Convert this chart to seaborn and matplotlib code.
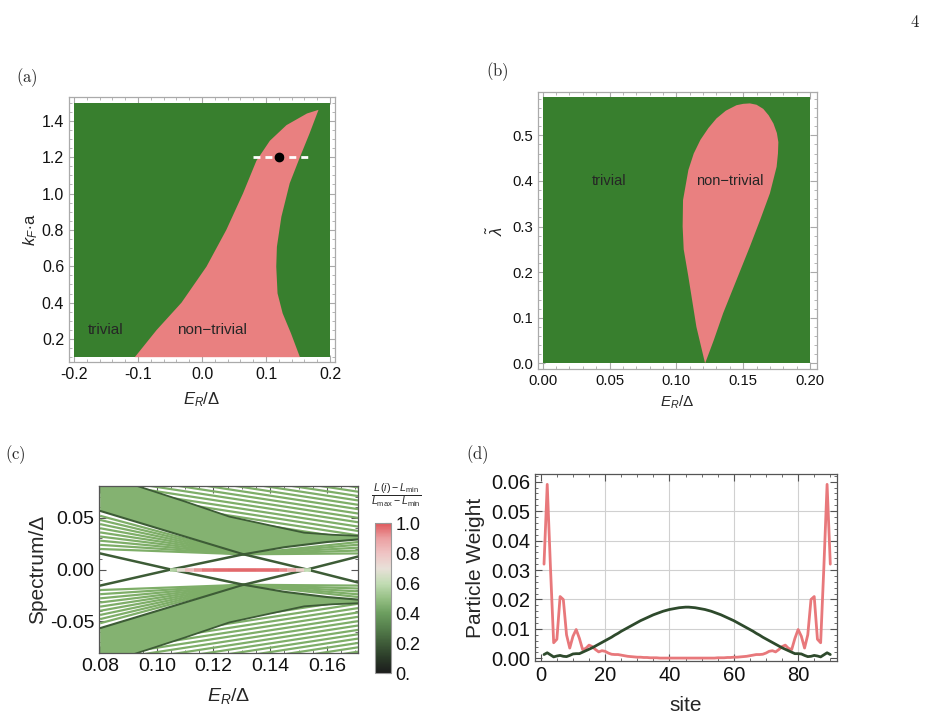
import matplotlib
matplotlib.use("Agg")
import matplotlib.pyplot as plt
from matplotlib.cm import ScalarMappable
from matplotlib.collections import LineCollection
from matplotlib.colors import LinearSegmentedColormap, Normalize
from matplotlib.patches import Polygon
from matplotlib.ticker import AutoMinorLocator, FixedLocator, FormatStrFormatter
import numpy as np
import pandas as pd
import seaborn as sns

# (a) phase diagram, E_R/Delta vs k_F a
a_er_range = [-0.2, 0.2]
a_kf_range = [0.1, 1.5]
a_left_er = [-0.105, -0.071, -0.032, 0.007, 0.038, 0.064, 0.085, 0.106, 0.132, 0.164, 0.182]
a_left_kf = [0.1, 0.249, 0.4, 0.598, 0.8, 1.0, 1.18, 1.29, 1.376, 1.44, 1.46]
a_right_er = [0.182, 0.168, 0.153, 0.137, 0.124, 0.117, 0.116, 0.118, 0.126, 0.139, 0.153]
a_right_kf = [1.46, 1.33, 1.2, 1.056, 0.872, 0.707, 0.598, 0.451, 0.341, 0.231, 0.1]
a_cut_er = [0.08, 0.17]
a_cut_kf = [1.2, 1.2]
a_point = [0.12, 1.2]

# (b) phase diagram, E_R/Delta vs lambda
b_er_range = [0.0, 0.2]
b_lam_range = [0.0, 0.583]
b_drop_er = [0.1215, 0.115, 0.109, 0.1055, 0.1047, 0.105, 0.109, 0.113, 0.118, 0.124, 0.130,
             0.137, 0.145, 0.150, 0.155, 0.160, 0.165, 0.169, 0.1726, 0.1752, 0.1763, 0.1760,
             0.175, 0.170, 0.1626, 0.155, 0.145, 0.135, 0.128]
b_drop_lam = [0.0, 0.080, 0.190, 0.250, 0.300, 0.358, 0.424, 0.460, 0.490, 0.516, 0.537,
              0.554, 0.566, 0.569, 0.570, 0.567, 0.558, 0.544, 0.526, 0.505, 0.485, 0.460,
              0.431, 0.373, 0.314, 0.256, 0.183, 0.110, 0.051]

# (c) spectrum, upper half (lower half is the mirror image)
c_e1_x = [0.092, 0.110, 0.1256, 0.140, 0.152, 0.162, 0.171]
c_e1_y = [0.0815, 0.0655, 0.0510, 0.0425, 0.0355, 0.0335, 0.0325]
c_e2_x = [0.08, 0.1306]
c_e2_y = [0.0565, 0.0147]
c_e3_x = [0.1306, 0.145, 0.160, 0.171]
c_e3_y = [0.0147, 0.0215, 0.0265, 0.0290]
c_gap_x = [0.08, 0.105, 0.1306, 0.153, 0.171]
c_gap_y = [0.0155, 0.0, 0.0147, 0.0, 0.0125]
c_top_yl = [0.0460, 0.0502, 0.0544, 0.0586, 0.0628, 0.0670, 0.0712, 0.0754, 0.0796, 0.0838,
            0.0880, 0.0922, 0.0964, 0.1006, 0.1048, 0.1090, 0.1132]
c_top_yr = [0.0120, 0.0162, 0.0204, 0.0246, 0.0288, 0.0330, 0.0372, 0.0414, 0.0456, 0.0498,
            0.0540, 0.0582, 0.0624, 0.0666, 0.0708, 0.0750, 0.0792]
c_top_x = [0.09, 0.171]
c_fan_left_y0 = [0.0198, 0.0238, 0.0278, 0.0318, 0.0358, 0.0398, 0.0438, 0.0478, 0.0518]
c_fan_right_y1 = [0.0155, 0.0183, 0.0211, 0.0239, 0.0265]
c_zero_x = [0.1045, 0.107, 0.110, 0.113, 0.116, 0.120, 0.125, 0.130, 0.135, 0.140,
            0.143, 0.146, 0.149, 0.152, 0.1545]
c_zero_L = [0.50, 0.62, 0.75, 0.88, 0.95, 0.97, 0.98, 0.98, 0.98, 0.97,
            0.96, 0.92, 0.82, 0.68, 0.52]

# (d) particle weight per site
sites = list(range(1, 91))
edge_weight = [0.0320, 0.0591, 0.0310, 0.0053, 0.0065, 0.0210, 0.0200, 0.0080, 0.0035, 0.0075,
               0.0098, 0.0068, 0.0030, 0.0034, 0.0045, 0.0040, 0.0030, 0.0022, 0.0026, 0.0024,
               0.0018, 0.0014, 0.0013, 0.0013, 0.0011, 0.0009, 0.0007, 0.0006, 0.0005, 0.0004,
               0.0004, 0.0003, 0.0003, 0.0002, 0.0002, 0.0002, 0.0001, 0.0001, 0.0001, 0.0001,
               0.0001, 0.0001, 0.0001, 0.0001, 0.0001,
               0.0001, 0.0001, 0.0001, 0.0001, 0.0001, 0.0001, 0.0001, 0.0001, 0.0001, 0.0002,
               0.0002, 0.0002, 0.0003, 0.0003, 0.0004, 0.0004, 0.0005, 0.0006, 0.0007, 0.0009,
               0.0011, 0.0013, 0.0013, 0.0014, 0.0018, 0.0024, 0.0026, 0.0022, 0.0030, 0.0040,
               0.0045, 0.0034, 0.0030, 0.0068, 0.0098, 0.0075, 0.0035, 0.0080, 0.0200, 0.0210,
               0.0065, 0.0053, 0.0310, 0.0591, 0.0320]
bulk_weight = [0.0013, 0.0019, 0.0012, 0.0005, 0.0008, 0.0010, 0.0007, 0.0006, 0.0010, 0.0015,
               0.0016, 0.0016, 0.0021, 0.0026, 0.0031, 0.0036, 0.0042, 0.0048, 0.0054, 0.0060,
               0.0066, 0.0072, 0.0079, 0.0085, 0.0092, 0.0098, 0.0104, 0.0110, 0.0116, 0.0122,
               0.0128, 0.0133, 0.0138, 0.0143, 0.0148, 0.0152, 0.0156, 0.0160, 0.0163, 0.0166,
               0.0168, 0.0170, 0.0172, 0.0173, 0.0174,
               0.0174, 0.0173, 0.0172, 0.0170, 0.0168, 0.0166, 0.0163, 0.0160, 0.0156, 0.0152,
               0.0148, 0.0143, 0.0138, 0.0133, 0.0128, 0.0122, 0.0116, 0.0110, 0.0104, 0.0098,
               0.0092, 0.0085, 0.0079, 0.0072, 0.0066, 0.0060, 0.0054, 0.0048, 0.0042, 0.0036,
               0.0031, 0.0026, 0.0021, 0.0016, 0.0016, 0.0015, 0.0010, 0.0006, 0.0007, 0.0010,
               0.0008, 0.0005, 0.0012, 0.0019, 0.0013]

PHASE_GREEN = "#387f2e"
PHASE_PINK = "#e98080"
LINE_GREEN = "#7eae68"
BAND_GREEN = "#84b271"
DARK_GREEN = "#3d5c36"
EDGE_RED = "#e8787b"
BULK_DARK = "#2e4a2c"

sns.set_style("ticks")
plt.rcParams["font.family"] = ["Liberation Sans", "DejaVu Sans"]
plt.rcParams["mathtext.fontset"] = "custom"
plt.rcParams["mathtext.rm"] = "Liberation Sans"
plt.rcParams["mathtext.it"] = "Liberation Sans:italic"
plt.rcParams["mathtext.bf"] = "Liberation Sans:bold"

cmap = LinearSegmentedColormap.from_list(
    "loc",
    [(0.0, "#1c1c1c"), (0.1, "#2a3a28"), (0.2, "#3f5c39"), (0.3, "#557f4c"),
     (0.4, "#6c9e5f"), (0.5, "#96c085"), (0.6, "#c2dcb4"), (0.7, "#e8e0d8"),
     (0.8, "#efc4c4"), (0.9, "#eba0a2"), (1.0, "#e05a5e")],
)


def style_frame(ax, color, size):
    for spine in ax.spines.values():
        spine.set_color(color)
        spine.set_linewidth(0.9)
    ax.tick_params(which="both", direction="in", top=True, right=True,
                   color=color, labelsize=size, labelcolor="#111111")
    ax.tick_params(which="major", length=5, width=0.8)
    ax.tick_params(which="minor", length=2.5, width=0.6)
    ax.xaxis.set_minor_locator(AutoMinorLocator())
    ax.yaxis.set_minor_locator(AutoMinorLocator())


fig = plt.figure(figsize=(9.35, 7.21), dpi=100)

# ---- (a)
ax = fig.add_axes([0.0738, 0.4983, 0.2845, 0.3675])
ax.fill_between(a_er_range, a_kf_range[0], a_kf_range[1], color=PHASE_GREEN, lw=0)
ax.fill(a_left_er + a_right_er, a_left_kf + a_right_kf, color=PHASE_PINK, lw=0)
ax.plot(a_cut_er, a_cut_kf, color="white", lw=2, ls=(0, (2.5, 1.8)))
ax.plot([a_point[0]], [a_point[1]], "o", color="black", ms=6)
ax.text(-0.15, 0.25, "trivial", ha="center", va="center", fontsize=11)
ax.text(0.016, 0.25, "non\u2212trivial", ha="center", va="center", fontsize=11)
ax.set_xlim(-0.2078, 0.2078)
ax.set_ylim(0.075, 1.532)
ax.xaxis.set_major_locator(FixedLocator([-0.2, -0.1, 0.0, 0.1, 0.2]))
ax.yaxis.set_major_locator(FixedLocator([0.2, 0.4, 0.6, 0.8, 1.0, 1.2, 1.4]))
ax.xaxis.set_major_formatter(FormatStrFormatter("%.1f"))
ax.yaxis.set_major_formatter(FormatStrFormatter("%.1f"))
style_frame(ax, "#aaaaaa", 11.5)
ax.set_xlabel(r"$E_R/\Delta$", fontsize=12, labelpad=6)
ax.set_ylabel(r"$k_F\!\cdot\!\mathrm{a}$", fontsize=12, labelpad=1)

# ---- (b)
ax = fig.add_axes([0.5751, 0.4878, 0.2984, 0.385])
ax.fill_between(b_er_range, b_lam_range[0], b_lam_range[1], color=PHASE_GREEN, lw=0)
ax.fill(b_drop_er, b_drop_lam, color=PHASE_PINK, lw=0)
ax.text(0.05, 0.40, "trivial", ha="center", va="center", fontsize=10.5)
ax.text(0.14, 0.40, "non\u2212trivial", ha="center", va="center", fontsize=10.5)
ax.set_xlim(-0.0037, 0.205)
ax.set_ylim(-0.013, 0.5956)
ax.xaxis.set_major_locator(FixedLocator([0.0, 0.05, 0.10, 0.15, 0.20]))
ax.yaxis.set_major_locator(FixedLocator([0.0, 0.1, 0.2, 0.3, 0.4, 0.5]))
ax.xaxis.set_major_formatter(FormatStrFormatter("%.2f"))
ax.yaxis.set_major_formatter(FormatStrFormatter("%.1f"))
style_frame(ax, "#aaaaaa", 10.7)
ax.set_xlabel(r"$E_R/\Delta$", fontsize=11)
ax.set_ylabel(r"$\tilde{\lambda}$", fontsize=12)

# ---- (c)
ax = fig.add_axes([0.1059, 0.0943, 0.277, 0.2316])
for sgn in (1, -1):
    e1 = [sgn * v for v in c_e1_y]
    e2 = [sgn * v for v in c_e2_y]
    e3 = [sgn * v for v in c_e3_y]
    band_x = [0.08] + c_e1_x + c_e3_x[::-1] + c_e2_x[::-1][1:]
    band_y = [sgn * 0.0815] + e1 + e3[::-1] + e2[::-1][1:]
    ax.fill(band_x, band_y, color=BAND_GREEN, lw=0)

    above = Polygon(list(zip(c_e1_x + [0.175, 0.09], e1 + [sgn * 0.09, sgn * 0.09])),
                    closed=True, transform=ax.transData)
    for yl, yr in zip(c_top_yl, c_top_yr):
        line, = ax.plot(c_top_x, [sgn * yl, sgn * yr], color=LINE_GREEN, lw=1.6,
                        solid_capstyle="butt")
        line.set_clip_path(above)

    for y0 in c_fan_left_y0:
        ax.plot([c_e2_x[0], c_e2_x[1]], [sgn * y0, e2[1]], color=LINE_GREEN, lw=1.6,
                solid_capstyle="butt")
    for y1 in c_fan_right_y1:
        ax.plot([c_e3_x[0], c_e3_x[-1]], [e3[0], sgn * y1], color=LINE_GREEN, lw=1.6,
                solid_capstyle="butt")

    ax.plot(c_e1_x, e1, color=DARK_GREEN, lw=1.3)
    ax.plot(c_e2_x, e2, color=DARK_GREEN, lw=1.5)
    ax.plot(c_e3_x, e3, color=DARK_GREEN, lw=1.5)
    ax.plot(c_gap_x, [sgn * v for v in c_gap_y], color=DARK_GREEN, lw=1.8)

pts = np.column_stack([c_zero_x, np.zeros(len(c_zero_x))])
segs = np.stack([pts[:-1], pts[1:]], axis=1)
seg_vals = [(a + b) / 2 for a, b in zip(c_zero_L[:-1], c_zero_L[1:])]
zero_mode = LineCollection(segs, cmap=cmap, norm=Normalize(0, 1), lw=2.6, capstyle="butt")
zero_mode.set_array(np.array(seg_vals))
ax.add_collection(zero_mode)

ax.set_xlim(0.0796, 0.171)
ax.set_ylim(-0.0805, 0.0805)
ax.xaxis.set_major_locator(FixedLocator([0.08, 0.10, 0.12, 0.14, 0.16]))
ax.yaxis.set_major_locator(FixedLocator([-0.05, 0.0, 0.05]))
ax.xaxis.set_major_formatter(FormatStrFormatter("%.2f"))
ax.yaxis.set_major_formatter(FormatStrFormatter("%.2f"))
style_frame(ax, "#555555", 14)
ax.set_xlabel(r"$E_R/\Delta$", fontsize=14, labelpad=8)
ax.set_ylabel("Spectrum/\u0394", fontsize=15, labelpad=2)

cax = fig.add_axes([0.4011, 0.0662, 0.0168, 0.208])
cbar = fig.colorbar(ScalarMappable(norm=Normalize(0, 1), cmap=cmap), cax=cax)
cbar.set_ticks([0.0, 0.2, 0.4, 0.6, 0.8, 1.0])
cbar.set_ticklabels(["0.", "0.2", "0.4", "0.6", "0.8", "1.0"])
cbar.minorticks_on()
cbar.outline.set_edgecolor("#999999")
cax.tick_params(which="both", direction="in", color="#999999", labelsize=13, labelcolor="#111111")
cax.tick_params(which="major", length=4)
cax.tick_params(which="minor", length=2)
fig.text(0.4235, 0.3134,
         r"$\frac{L\,(i)-L_{\mathrm{min}}}{L_{\mathrm{max}}-L_{\mathrm{min}}}$",
         ha="center", va="center", fontsize=11)

# ---- (d)
ax = fig.add_axes([0.5722, 0.0836, 0.3227, 0.2585])
for gx in [20, 40, 60, 80]:
    ax.axvline(gx, color="#d0d0d0", lw=0.8, zorder=0)
for gy in [0.01, 0.02, 0.03, 0.04, 0.05]:
    ax.axhline(gy, color="#d0d0d0", lw=0.8, zorder=0)
weights = pd.DataFrame({
    "site": sites + sites,
    "weight": edge_weight + bulk_weight,
    "state": ["edge"] * len(sites) + ["bulk"] * len(sites),
})
sns.lineplot(data=weights, x="site", y="weight", hue="state",
             palette={"edge": EDGE_RED, "bulk": BULK_DARK}, legend=False,
             lw=2, ax=ax)
ax.set_xlim(-1.8, 92)
ax.set_ylim(-0.0008, 0.0625)
ax.xaxis.set_major_locator(FixedLocator([0, 20, 40, 60, 80]))
ax.yaxis.set_major_locator(FixedLocator([0.0, 0.01, 0.02, 0.03, 0.04, 0.05, 0.06]))
ax.yaxis.set_major_formatter(FormatStrFormatter("%.2f"))
style_frame(ax, "#555555", 14.5)
ax.set_xlabel("site", fontsize=15, labelpad=8)
ax.set_ylabel("Particle Weight", fontsize=15)

# panel tags and page number
for tag, x, y in [("(a)", 0.0289, 0.8918), ("(b)", 0.5316, 0.9001),
                  ("(c)", 0.016, 0.369), ("(d)", 0.510, 0.369)]:
    fig.text(x, y, r"$\mathrm{" + tag + "}$", math_fontfamily="cm",
             ha="center", va="center", fontsize=12)
fig.text(0.9786, 0.9695, r"$\mathrm{4}$", math_fontfamily="cm",
         ha="center", va="center", fontsize=12)

fig.savefig("out.png", dpi=100)
